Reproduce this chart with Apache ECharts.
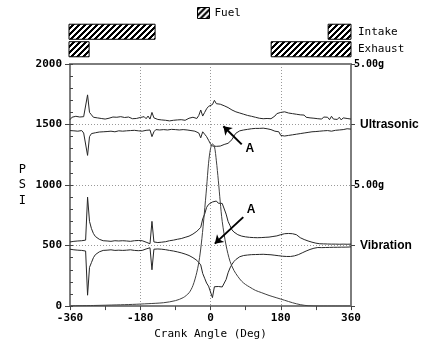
<!DOCTYPE html>
<html>
<head>
<meta charset="utf-8">
<script src="https://cdn.jsdelivr.net/npm/echarts@6/dist/echarts.min.js"></script>
<style>
  html, body { margin: 0; padding: 0; background: #fff; }
  #main { width: 426px; height: 345px; }
</style>
</head>
<body>
<div id="main"></div>
<script>
// crank angle samples (deg) shared by the four envelope traces
const angles = [
  -360,-355,-350,-345,-340,-335,-330,-325,-320,-315,-310,-305,
  -300,-295,-290,-285,-280,-275,-270,-265,-260,-255,-250,-245,
  -240,-235,-230,-225,-220,-215,-210,-205,-200,-195,-190,-185,
  -180,-175,-170,-165,-160,-155,-150,-145,-140,-135,-130,-125,
  -120,-115,-110,-105,-100,-95,-90,-85,-80,-75,-70,-65,
  -60,-55,-50,-45,-40,-35,-30,-25,-20,-15,-10,-5,
  0,5,10,15,20,25,30,35,40,45,50,55,
  60,65,70,75,80,85,90,95,100,105,110,115,
  120,125,130,135,140,145,150,155,160,165,170,175,
  180,185,190,195,200,205,210,215,220,225,230,235,
  240,245,250,255,260,265,270,275,280,285,290,295,
  300,305,310,315,320,325,330,335,340,345,350,355,
  360
];

// ultrasonic envelope (plotted around the 1500 line)
const ultraHigh = [
  1540,1560,1552,1568,1555,1562,1550,1565,1575,1745,1600,1580,
  1560,1570,1555,1562,1550,1558,1545,1560,1552,1548,1562,1555,
  1560,1548,1565,1550,1558,1545,1562,1555,1548,1560,1550,1545,
  1558,1550,1565,1548,1570,1545,1600,1555,1548,1542,1550,1538,
  1545,1535,1542,1530,1540,1535,1545,1538,1548,1540,1545,1535,
  1548,1552,1545,1560,1555,1550,1575,1620,1570,1600,1630,1650,
  1660,1665,1700,1672,1680,1668,1660,1655,1645,1640,1625,1620,
  1612,1605,1600,1595,1590,1585,1582,1575,1570,1568,1562,1560,
  1555,1552,1550,1548,1552,1550,1555,1548,1558,1570,1590,1575,
  1600,1585,1605,1590,1595,1585,1590,1575,1585,1570,1580,1565,
  1578,1560,1572,1555,1570,1552,1565,1548,1560,1545,1562,1548,
  1560,1540,1568,1545,1555,1542,1560,1538,1555,1540,1550,1535,
  1545
];
const ultraLow = [
  1450,1440,1448,1435,1445,1438,1450,1430,1420,1245,1400,1425,
  1440,1432,1445,1438,1450,1440,1452,1442,1455,1445,1450,1440,
  1455,1448,1452,1445,1458,1448,1455,1450,1460,1452,1458,1448,
  1455,1445,1430,1452,1440,1455,1400,1440,1458,1462,1455,1465,
  1458,1462,1455,1465,1460,1466,1458,1462,1455,1465,1458,1462,
  1455,1460,1450,1455,1445,1448,1430,1390,1440,1420,1400,1370,
  1340,1322,1318,1320,1325,1322,1330,1335,1340,1345,1352,1375,
  1405,1428,1440,1448,1452,1455,1458,1460,1462,1465,1466,1468,
  1470,1468,1472,1470,1468,1465,1462,1458,1455,1445,1430,1440,
  1410,1425,1405,1420,1410,1425,1415,1430,1420,1435,1425,1440,
  1430,1442,1435,1448,1440,1450,1442,1455,1445,1458,1448,1455,
  1450,1462,1445,1460,1452,1465,1455,1468,1458,1462,1465,1458,
  1462
];

// vibration envelope (plotted around the 500 line)
const vibHigh = [
  530,545,535,548,538,550,540,555,545,900,700,640,
  600,575,560,552,545,540,548,538,545,535,548,540,
  555,538,548,540,552,538,545,535,548,540,550,542,
  548,540,535,528,520,515,700,530,520,525,530,528,
  535,532,538,540,542,545,548,552,555,558,562,568,
  572,578,585,595,605,618,632,650,720,760,815,840,
  852,860,855,868,850,862,848,855,760,700,665,630,
  612,600,590,585,578,575,572,570,568,565,566,563,
  565,562,566,563,568,565,570,568,575,572,580,575,
  590,580,598,585,600,590,598,585,590,575,565,558,
  550,545,538,532,528,522,520,518,515,518,514,517,
  513,516,512,515,512,514,511,515,512,514,511,515,
  512
];
const vibLow = [
  470,455,465,452,462,450,460,445,455,90,320,360,
  400,425,440,448,455,460,452,462,455,465,452,460,
  448,462,452,460,448,462,455,465,452,460,450,458,
  452,460,465,472,478,482,300,470,478,472,468,470,
  465,466,462,460,458,455,452,448,445,440,436,430,
  425,418,410,400,390,378,360,340,270,230,190,165,
  150,70,160,150,162,148,158,165,220,275,315,345,
  368,385,398,408,415,418,420,422,424,425,424,426,
  425,427,426,428,424,426,422,424,418,420,412,416,
  405,412,400,410,402,410,405,415,412,425,432,440,
  448,455,462,468,472,478,482,484,486,483,487,484,
  488,485,489,486,489,486,490,487,490,487,491,488,
  490
];

// cylinder pressure (PSI)
const pressAngles = [-360,-300,-240,-200,-160,-120,-90,-70,-55,-45,-35,-28,-22,-16,-10,-5,0,5,10,15,20,25,30,40,50,60,70,80,90,100,115,130,150,170,190,210,230,250,280,320,360];
const pressure    = [2,5,10,14,20,28,45,70,110,170,280,400,560,760,980,1180,1300,1340,1320,1200,1040,860,700,500,370,295,245,205,178,158,130,112,88,68,48,28,12,3,0,0,0];

// valve events, crank angle ranges
const valveNames = ['Intake', 'Exhaust'];
const intakeOpen = [[-360, -142], [304, 360]];
const exhaustOpen = [[-360, -311], [158, 360]];

// right axis labels
const rightLabels = { 2000: '5.00g', 1500: 'Ultrasonic', 1000: '5.00g', 500: 'Vibration' };

// annotation "A" arrows: [from, to] and label spots
const arrows = [[[80, 1336], [33, 1486]], [[84, 735], [11, 516]]];
const arrowLabels = [[101, 1303], [104, 799]];

// crisp diagonal hatch tile, "/" stripes
function hatch() {
  const n = 6;
  const c = document.createElement('canvas');
  c.width = n; c.height = n;
  const g = c.getContext('2d');
  g.fillStyle = '#fff';
  g.fillRect(0, 0, n, n);
  g.fillStyle = '#000';
  for (let x = 0; x < n; x++) {
    for (let y = 0; y < n; y++) {
      if ((x + y) % n < 3) g.fillRect(x, y, 1, 1);
    }
  }
  return c;
}
const pattern = { image: hatch(), repeat: 'repeat' };

const mono = 'DejaVu Sans Mono';
const axisGray = '#7d7d7d';
const traceColor = '#262626';

function pairs(xs, ys) {
  return xs.map(function (x, i) { return [x, ys[i]]; });
}

const valveData = [];
intakeOpen.forEach(function (r) { valveData.push([0, r[0], r[1]]); });
exhaustOpen.forEach(function (r) { valveData.push([1, r[0], r[1]]); });

function traceSeries(name, data) {
  return {
    name: name,
    type: 'line',
    xAxisIndex: 0,
    yAxisIndex: 0,
    data: data,
    showSymbol: false,
    silent: true,
    lineStyle: { color: traceColor, width: 1 },
    z: 3
  };
}

const chart = echarts.init(document.getElementById('main'), null, { renderer: 'canvas' });

const option = {
  animation: false,
  backgroundColor: '#fff',
  legend: {
    data: [{ name: 'Fuel', icon: 'rect' }],
    left: 197,
    top: 7,
    padding: 0,
    itemWidth: 12,
    itemHeight: 11,
    itemStyle: { color: pattern, borderColor: '#000', borderWidth: 1 },
    textStyle: { fontFamily: mono, fontSize: 11, color: '#000' }
  },
  grid: [
    { left: 70, right: 75, top: 64, bottom: 37 },
    { left: 70, right: 75, top: 23, height: 35 }
  ],
  xAxis: [
    {
      gridIndex: 0, type: 'value', min: -360, max: 360, interval: 90,
      position: 'bottom',
      axisLine: { show: true, onZero: false, lineStyle: { color: axisGray, width: 2 } },
      axisTick: { show: true, length: 4, lineStyle: { color: '#444' } },
      axisLabel: {
        margin: 7, color: '#000', fontFamily: mono, fontSize: 11, fontWeight: 'bold',
        formatter: function (v) { return v % 180 === 0 ? String(v) : ''; }
      },
      splitLine: { show: false },
      name: 'Crank Angle (Deg)', nameLocation: 'middle', nameGap: 21,
      nameTextStyle: { fontFamily: mono, fontSize: 11, color: '#000' }
    },
    {
      gridIndex: 0, type: 'value', min: -360, max: 360, interval: 180,
      position: 'top',
      axisLine: { show: true, onZero: false, lineStyle: { color: axisGray, width: 2 } },
      axisTick: { show: false },
      axisLabel: { show: false },
      splitLine: { show: true, lineStyle: { color: '#999', type: [1, 2], width: 1 } }
    },
    {
      gridIndex: 1, type: 'value', min: -360, max: 360, show: false
    }
  ],
  yAxis: [
    {
      gridIndex: 0, type: 'value', min: 0, max: 2000, interval: 500, position: 'left',
      axisLine: { show: true, onZero: false, lineStyle: { color: axisGray, width: 2 } },
      axisTick: { show: true, length: 5, lineStyle: { color: '#444' } },
      axisLabel: {
        margin: 8, color: '#000', fontFamily: mono, fontSize: 11, fontWeight: 'bold',
        formatter: function (v) { return String(v); }
      },
      splitLine: { show: true, lineStyle: { color: '#999', type: [1, 2], width: 1 } },
      name: 'P\nS\nI', nameLocation: 'middle', nameRotate: 0, nameGap: 44,
      nameTextStyle: { fontFamily: mono, fontSize: 12, color: '#000', lineHeight: 15.5 }
    },
    {
      gridIndex: 0, type: 'value', min: 0, max: 2000, interval: 500, position: 'right',
      axisLine: { show: true, onZero: false, lineStyle: { color: axisGray, width: 2 } },
      axisTick: { show: true, length: 4, lineStyle: { color: '#444' } },
      axisLabel: {
        margin: 3,
        formatter: function (v) {
          const t = rightLabels[v];
          if (!t) return '';
          return t === '5.00g' ? '{g|' + t + '}' : '{n|' + t + '}';
        },
        rich: {
          g: { fontFamily: mono, fontSize: 10, fontWeight: 'bold', color: '#000' },
          n: { fontFamily: 'Liberation Sans', fontSize: 12, fontWeight: 'bold', color: '#000', padding: [0, 0, 0, 6] }
        }
      },
      splitLine: { show: false }
    },
    {
      gridIndex: 0, type: 'value', min: 0, max: 2000, interval: 100, position: 'left',
      axisLine: { show: false, onZero: false },
      axisTick: { show: true, inside: true, length: 3, lineStyle: { color: '#444' } },
      axisLabel: { show: false },
      splitLine: { show: false }
    },
    {
      gridIndex: 1, type: 'category', data: valveNames, inverse: true, position: 'right',
      axisLine: { show: false, onZero: false },
      axisTick: { show: false },
      axisLabel: { margin: 7, color: '#000', fontFamily: mono, fontSize: 11 }
    }
  ],
  series: [
    traceSeries('ultraHigh', pairs(angles, ultraHigh)),
    traceSeries('ultraLow', pairs(angles, ultraLow)),
    traceSeries('vibHigh', pairs(angles, vibHigh)),
    traceSeries('vibLow', pairs(angles, vibLow)),
    Object.assign(traceSeries('pressure', pairs(pressAngles, pressure)), {
      smooth: 0.3,
      lineStyle: { color: '#404040', width: 1 },
      markLine: {
        silent: true,
        symbol: ['none', 'arrow'],
        symbolSize: 8,
        label: { show: false },
        lineStyle: { color: '#000', width: 2, type: 'solid' },
        data: arrows.map(function (a) { return [{ coord: a[0] }, { coord: a[1] }]; })
      },
      markPoint: {
        silent: true,
        symbol: 'circle',
        symbolSize: 1,
        itemStyle: { color: 'rgba(0,0,0,0)' },
        label: { show: true, position: 'inside', formatter: 'A', fontFamily: 'Liberation Sans', fontSize: 12, fontWeight: 'bold', color: '#000' },
        data: arrowLabels.map(function (p) { return { coord: p }; })
      }
    }),
    {
      name: 'valves',
      type: 'custom',
      xAxisIndex: 2,
      yAxisIndex: 3,
      silent: true,
      data: valveData,
      renderItem: function (params, api) {
        const cat = api.value(0);
        const p0 = api.coord([api.value(1), cat]);
        const p1 = api.coord([api.value(2), cat]);
        const h = api.size([0, 1])[1] * 0.86;
        return {
          type: 'rect',
          shape: { x: p0[0] - 1, y: p0[1] - h / 2, width: p1[0] - p0[0] + 1, height: h },
          style: { fill: pattern, stroke: '#000', lineWidth: 1 }
        };
      }
    },
    {
      name: 'Fuel',
      type: 'custom',
      xAxisIndex: 2,
      yAxisIndex: 3,
      data: [],
      itemStyle: { color: pattern, borderColor: '#000', borderWidth: 1 },
      renderItem: function () { return null; }
    }
  ]
};

chart.setOption(option);
</script>
</body>
</html>
